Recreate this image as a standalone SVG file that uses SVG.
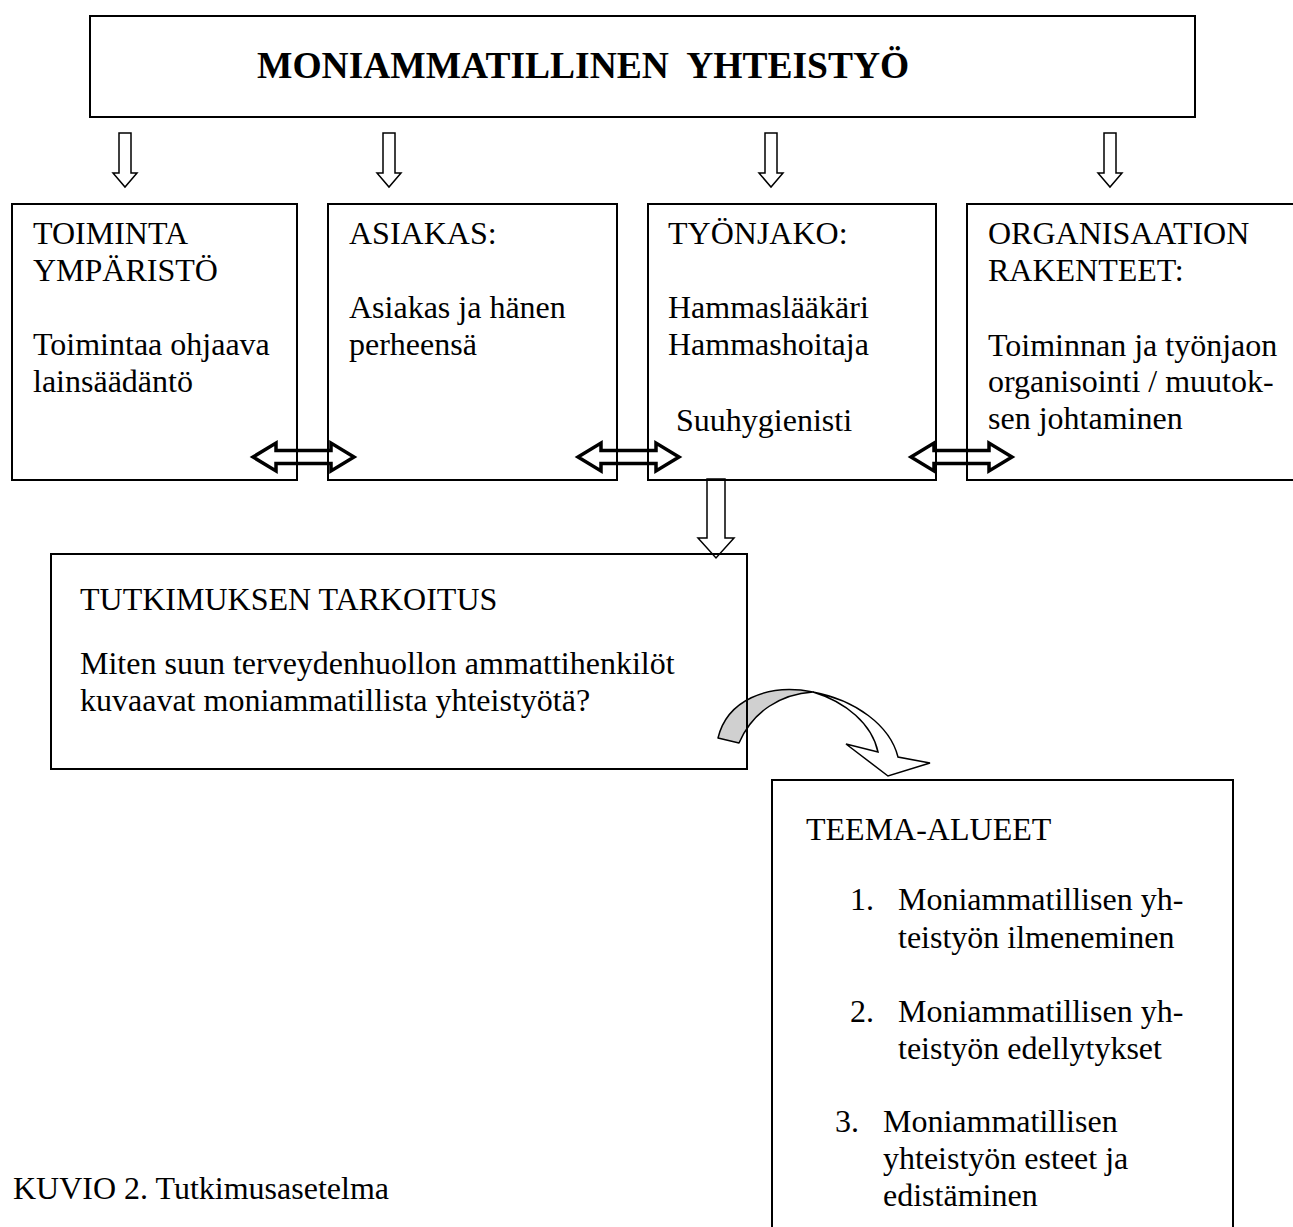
<svg xmlns="http://www.w3.org/2000/svg" width="1293" height="1227" viewBox="0 0 1293 1227">
<style>
.box{fill:none;stroke:#000;stroke-width:2}
.t{font-family:"Liberation Serif","Times New Roman",serif;font-size:32px;fill:#000}
.title{font-family:"Liberation Serif","Times New Roman",serif;font-size:37.5px;font-weight:bold;fill:#000}
.down{fill:#fff;stroke:#000;stroke-width:1.5;stroke-linejoin:miter}
.dbl{fill:#fff;stroke:#000;stroke-width:3.5;stroke-linejoin:miter}
</style>
<defs>
<path id="dn" d="M-6,0 H6 V40 H12 L0,54 L-12,40 H-6 Z"/>
<path id="lr" d="M0,0 L23,-14 V-6.5 H78 V-14 L101,0 L78,14 V6.5 H23 V14 Z"/>
</defs>
<rect width="1293" height="1227" fill="#fff"/>
<g id="connectors">
<use href="#dn" class="down" x="125" y="133"/>
<use href="#dn" class="down" x="389" y="133"/>
<use href="#dn" class="down" x="771" y="133"/>
<use href="#dn" class="down" x="1110" y="133"/>
<use href="#lr" class="dbl" x="253" y="457"/>
<use href="#lr" class="dbl" x="578" y="457"/>
<use href="#lr" class="dbl" x="911" y="457"/>
<path class="down" d="M707,479 H725 V538 H734 L716,558 L698,538 H707 Z"/>
<path d="M718,738 C727,701 766,683 813,692 C781,694 753,711 739,743 Z" fill="#d0d0d0" stroke="#000" stroke-width="1.5" stroke-linejoin="round"/>
<path d="M813,692 C855,700 890,725 898,757 L930,763 L888,776 L846,744 L878,752 C872,724 846,702 813,692 Z" fill="#fff" stroke="#000" stroke-width="1.5" stroke-linejoin="miter"/>
</g>
<g id="n-main">
<rect class="box" x="90" y="16" width="1105" height="101"/>
<text class="title" x="257" y="78" xml:space="preserve">MONIAMMATILLINEN  YHTEISTYÖ</text>
</g>
<g id="n-toiminta">
<rect class="box" x="12" y="204" width="285" height="276"/>
<text class="t" x="33" y="244">TOIMINTA</text>
<text class="t" x="33" y="281">YMPÄRISTÖ</text>
<text class="t" x="33" y="355">Toimintaa ohjaava</text>
<text class="t" x="33" y="392">lainsäädäntö</text>
</g>
<g id="n-asiakas">
<rect class="box" x="328" y="204" width="289" height="276"/>
<text class="t" x="349" y="244">ASIAKAS:</text>
<text class="t" x="349" y="318">Asiakas ja hänen</text>
<text class="t" x="349" y="355">perheensä</text>
</g>
<g id="n-tyonjako">
<rect class="box" x="648" y="204" width="288" height="276"/>
<text class="t" x="668" y="244">TYÖNJAKO:</text>
<text class="t" x="668" y="318">Hammaslääkäri</text>
<text class="t" x="668" y="355">Hammashoitaja</text>
<text class="t" x="676" y="431">Suuhygienisti</text>
</g>
<g id="n-organisaatio">
<rect class="box" x="967" y="204" width="340" height="276"/>
<text class="t" x="988" y="244">ORGANISAATION</text>
<text class="t" x="988" y="281">RAKENTEET:</text>
<text class="t" x="988" y="356">Toiminnan ja työnjaon</text>
<text class="t" x="988" y="392">organisointi / muutok-</text>
<text class="t" x="988" y="429">sen johtaminen</text>
</g>
<g id="n-tutkimus">
<rect class="box" x="51" y="554" width="696" height="215"/>
<text class="t" x="80" y="610">TUTKIMUKSEN TARKOITUS</text>
<text class="t" x="80" y="674">Miten suun terveydenhuollon ammattihenkilöt</text>
<text class="t" x="80" y="711">kuvaavat moniammatillista yhteistyötä?</text>
</g>
<g id="n-teema">
<rect class="box" x="772" y="780" width="461" height="470"/>
<text class="t" x="806" y="840">TEEMA-ALUEET</text>
<text class="t" x="850" y="910">1.</text>
<text class="t" x="898" y="910">Moniammatillisen yh-</text>
<text class="t" x="898" y="948">teistyön ilmeneminen</text>
<text class="t" x="850" y="1022">2.</text>
<text class="t" x="898" y="1022">Moniammatillisen yh-</text>
<text class="t" x="898" y="1059">teistyön edellytykset</text>
<text class="t" x="835" y="1132">3.</text>
<text class="t" x="883" y="1132">Moniammatillisen</text>
<text class="t" x="883" y="1169">yhteistyön esteet ja</text>
<text class="t" x="883" y="1206">edistäminen</text>
</g>
<text class="t" x="13" y="1199">KUVIO 2. Tutkimusasetelma</text>
</svg>
